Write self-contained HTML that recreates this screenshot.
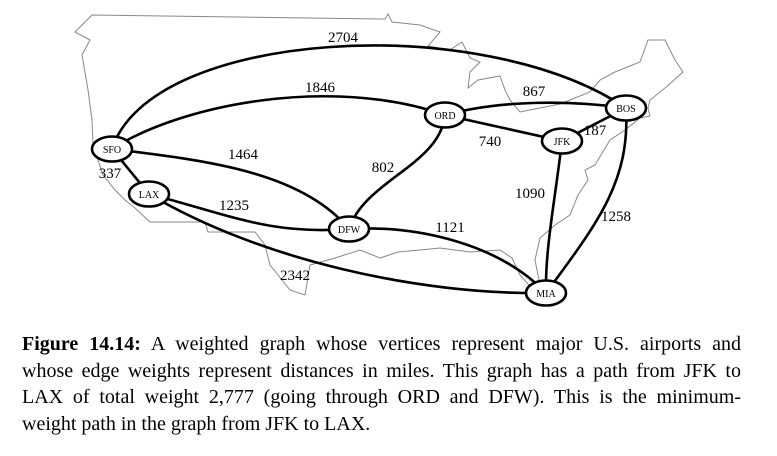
<!DOCTYPE html>
<html><head><meta charset="utf-8"><style>
body{margin:0;background:#fff;width:777px;height:456px;overflow:hidden;position:relative}
#cap{position:absolute;left:22px;top:331px;width:719px;font:20px/26.7px "Liberation Serif",serif;color:#000}
#cap span{display:block;text-align:justify;text-align-last:justify;white-space:nowrap}
#cap span.last{text-align-last:left}
text{font-family:"Liberation Serif",serif}
</style></head><body>
<svg id="g" width="777" height="320" style="position:absolute;left:0;top:0">
<path fill="none" stroke="#888" stroke-width="1" d="M92,15 L385,19 L388,14 L392,22 L420,25 L440,32 L428,46 L450,50 L462,42 L470,58 L480,62 L470,72 L468,88 L478,80 L500,76 L505,90 L510,100 L520,112 L540,108 L560,104 L590,92 L600,80 L615,72 L640,62 L648,40 L665,40 L675,60 L683,72 L665,88 L650,100 L648,108 L650,116 L640,118 L625,130 L610,140 L595,165 L585,170 L588,180 L578,195 L570,215 L555,225 L540,238 L535,260 L540,285 L545,300 L535,292 L520,275 L512,258 L500,250 L470,252 L440,248 L420,250 L398,252 L380,258 L360,250 L335,258 L310,265 L305,295 L290,290 L270,265 L265,245 L255,232 L208,232 L205,222 L150,222 L135,208 L125,200 L115,190 L103,175 L98,160 L93,145 L92,120 L88,90 L82,55 L90,40 L75,32 L92,15 Z"/>
<g id="edges"></g><g id="labels"></g><g id="nodes"></g>
</svg>
<div id="cap"><span><b>Figure 14.14:</b> A weighted graph whose vertices represent major U.S. airports and</span><span>whose edge weights represent distances in miles. This graph has a path from JFK to</span><span>LAX of total weight 2,777 (going through ORD and DFW). This is the minimum-</span><span class="last">weight path in the graph from JFK to LAX.</span></div>
<script>
const nodeNames=["SFO","LAX","DFW","ORD","BOS","JFK","MIA"];
const edgeFrom=["SFO","SFO","SFO","SFO","LAX","LAX","DFW","DFW","ORD","ORD","JFK","JFK","BOS"];
const edgeTo=["BOS","ORD","DFW","LAX","DFW","MIA","ORD","MIA","BOS","JFK","BOS","MIA","MIA"];
const edgeWeights=[2704,1846,1464,337,1235,2342,802,1121,867,740,187,1090,1258];
// layout (positions, not data)
const nodePos={SFO:[112,149],LAX:[149,194],DFW:[349,229],ORD:[445,115],BOS:[626,108],JFK:[562,141],MIA:[546,293]};
const ctrl=[[150,30,480,10],[180,105,330,75],[200,160,300,170],null,[230,215,270,235],[260,260,420,295],[365,180,440,165],[420,225,500,245],[500,100,570,100],null,null,[555,200,545,250],[630,180,600,220]];
const labelPos=[[343,42],[320,92],[243,159],[110,178],[234,210],[295,280],[383,172],[450,232],[534,96],[490,146],[595,135],[530,198],[616,221]];
const NS="http://www.w3.org/2000/svg";
const eg=document.getElementById('edges'),lg=document.getElementById('labels'),ng=document.getElementById('nodes');
edgeWeights.forEach((w,i)=>{
  const a=nodePos[edgeFrom[i]],b=nodePos[edgeTo[i]];
  const c=ctrl[i];
  const p=document.createElementNS(NS,'path');
  p.setAttribute('d',c?`M${a[0]},${a[1]} C${c[0]},${c[1]} ${c[2]},${c[3]} ${b[0]},${b[1]}`:`M${a[0]},${a[1]} L${b[0]},${b[1]}`);
  p.setAttribute('fill','none');p.setAttribute('stroke','#000');p.setAttribute('stroke-width','2.6');
  
  
  eg.appendChild(p);
  const t=document.createElementNS(NS,'text');
  t.setAttribute('x',labelPos[i][0]);t.setAttribute('y',labelPos[i][1]);
  t.setAttribute('text-anchor','middle');t.setAttribute('font-size','15');
  t.textContent=w;
  
  
  lg.appendChild(t);
});
nodeNames.forEach(n=>{
  const [x,y]=nodePos[n];
  const g=document.createElementNS(NS,'g');
  
  
  const e=document.createElementNS(NS,'ellipse');
  e.setAttribute('cx',x);e.setAttribute('cy',y);e.setAttribute('rx',20);e.setAttribute('ry',12.5);
  e.setAttribute('fill','#fff');e.setAttribute('stroke','#000');e.setAttribute('stroke-width','2.6');
  g.appendChild(e);
  const t=document.createElementNS(NS,'text');
  t.setAttribute('x',x);t.setAttribute('y',y+4);t.setAttribute('text-anchor','middle');t.setAttribute('font-size','10');
  t.textContent=n;g.appendChild(t);
  ng.appendChild(g);
});
</script>
</body></html>
